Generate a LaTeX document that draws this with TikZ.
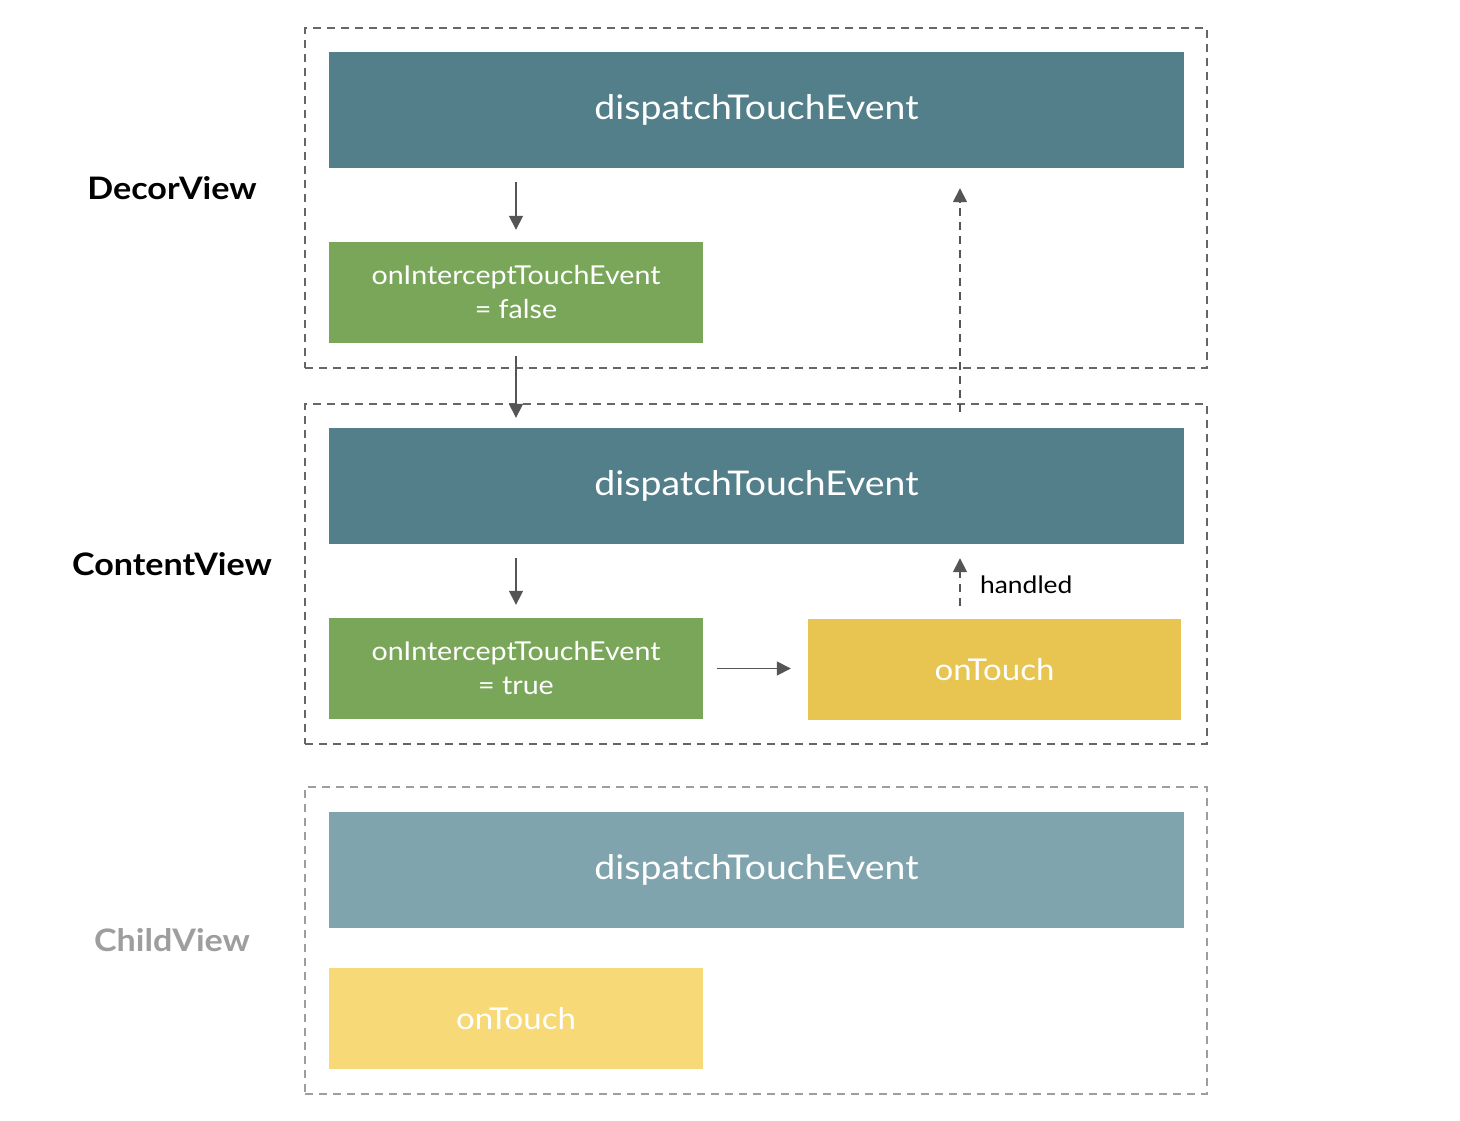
\documentclass[tikz,border=0pt]{standalone}
\usepackage{fontspec}
\setmainfont{Lato}[FakeStretch=1.1]
\usetikzlibrary{arrows.meta}
\definecolor{dteal}{HTML}{537F8A}
\definecolor{lteal}{HTML}{80A4AD}
\definecolor{grn}{HTML}{7AA65A}
\definecolor{ylw}{HTML}{E8C450}
\definecolor{lylw}{HTML}{F7D978}
\definecolor{arrgray}{HTML}{555555}
\definecolor{boxgray}{HTML}{666666}
\definecolor{lboxgray}{HTML}{9E9E9E}
\tikzset{
  grpbox/.style={draw=boxgray, line width=1.6pt, dash pattern=on 8pt off 6pt, minimum width=902pt, inner sep=0pt},
  lgrpbox/.style={grpbox, draw=lboxgray},
  dispbox/.style={fill=dteal, minimum width=855pt, minimum height=116pt, inner sep=0pt, text=white, font=\fontsize{34}{40}\selectfont},
  smallbox/.style={minimum width=374pt, minimum height=101pt, inner sep=0pt, text=white, align=center, font=\fontsize{26}{34}\selectfont},
  viewlabel/.style={font=\fontsize{31}{36}\selectfont\bfseries},
  arr/.style={draw=arrgray, line width=1.6pt, -{Triangle[length=14pt,width=14pt]}},
  darr/.style={arr, dash pattern=on 8pt off 6pt},
}
\begin{document}
\begin{tikzpicture}[x=1pt,y=-1pt]
\useasboundingbox (0,0) rectangle (1460,1120);
\fill[white] (0,0) rectangle (1460,1120);
% group boxes
\node[grpbox, minimum height=340pt] (decor) at (756,198) {};
\node[grpbox, minimum height=340pt] (content) at (756,574) {};
\node[lgrpbox, minimum height=307pt] (child) at (756,940.5) {};
% labels
\node[viewlabel] (lblD) at (172,188) {DecorView};
\node[viewlabel] (lblC) at (172,564) {ContentView};
\node[viewlabel, text=lboxgray] (lblCh) at (172,940) {ChildView};
% DecorView
\node[dispbox] (d1) at (756.5,110) {dispatchTouchEvent};
\node[smallbox, fill=grn] (i1) at (516,292.5) {onInterceptTouchEvent\\= false};
% ContentView
\node[dispbox] (d2) at (756.5,486) {dispatchTouchEvent};
\node[smallbox, fill=grn] (i2) at (516,668.5) {onInterceptTouchEvent\\= true};
\node[smallbox, fill=ylw, minimum width=373pt, font=\fontsize{30}{36}\selectfont] (t2) at (994.5,669.5) {onTouch};
% ChildView
\node[dispbox, fill=lteal] (d3) at (756.5,870) {dispatchTouchEvent};
\node[smallbox, fill=lylw, font=\fontsize{30}{36}\selectfont] (t3) at (516,1018.5) {onTouch};
% connectors
\coordinate (hx) at (960,0);
\draw[arr] ([yshift=-14pt]d1.south -| i1.north) -- ([yshift=12pt]i1.north);
\draw[arr] ([yshift=-13pt]i1.south) -- ([yshift=10pt]d2.north -| i1.south);
\draw[arr] ([yshift=-14pt]d2.south -| i2.north) -- ([yshift=13pt]i2.north);
\draw[arr] ([xshift=14pt]i2.east) -- ([xshift=-17pt]t2.west |- i2.east);
\draw[darr] ([yshift=13pt]t2.north -| hx) -- ([yshift=-14pt]d2.south -| hx)
  node[right=16pt, pos=0.45, font=\fontsize{24}{28}\selectfont, anchor=west] (hl) {handled};
\draw[darr] ([yshift=-9pt]content.north -| hx) -- ([yshift=-20pt]d1.south -| hx);
\end{tikzpicture}
\end{document}
